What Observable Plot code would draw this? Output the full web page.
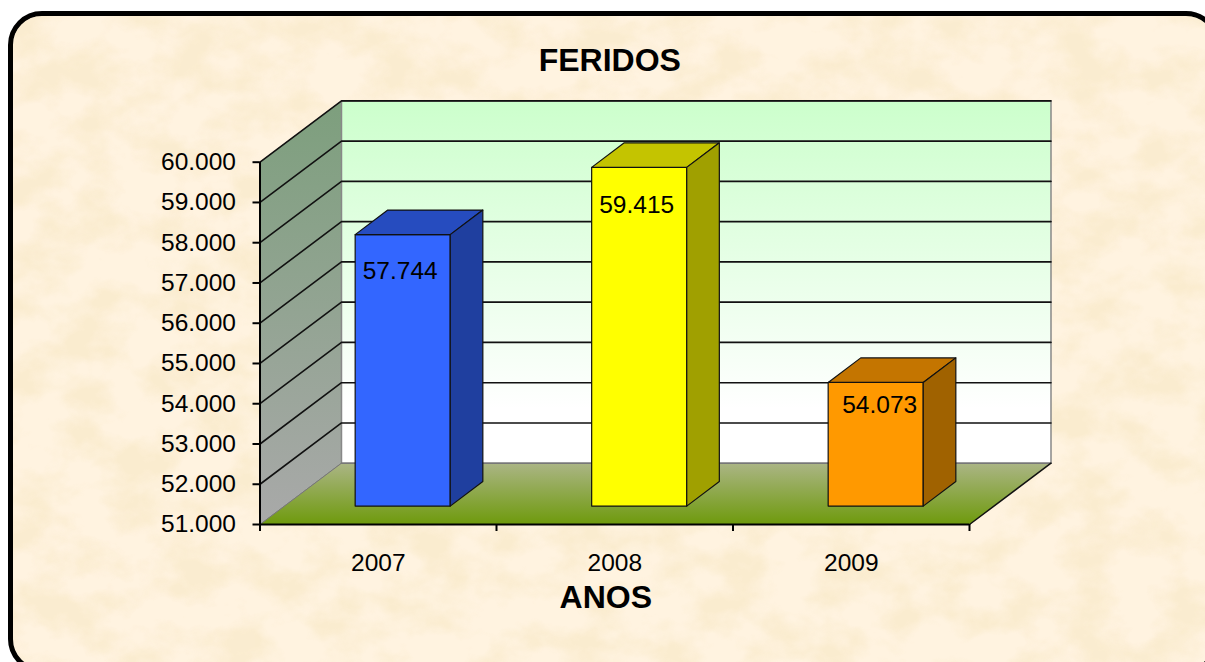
<!DOCTYPE html>
<html lang="pt">
<head>
<meta charset="utf-8">
<script src="https://cdn.jsdelivr.net/npm/d3@7"></script>
<script src="https://cdn.jsdelivr.net/npm/@observablehq/plot@0.6"></script>
<style>
  html, body { margin: 0; padding: 0; width: 1205px; height: 662px; overflow: hidden; background: #fff; }
  #page { position: relative; width: 1205px; height: 662px; overflow: hidden; }
  #panel { position: absolute; left: 8px; top: 11px; width: 1212px; height: 662px; box-sizing: border-box;
           border: 5px solid #000; border-radius: 34px; background: #fff3e0; overflow: hidden; }
  #panel svg { position: absolute; left: 0; top: 0; }
  #chart { position: absolute; left: 0; top: 0; }
</style>
</head>
<body>
<div id="page">
  <div id="panel">
    <svg width="1212" height="662">
      <filter id="parchment" x="0" y="0" width="100%" height="100%" color-interpolation-filters="sRGB">
        <feTurbulence type="fractalNoise" baseFrequency="0.02 0.026" numOctaves="4" seed="11"/>
        <feColorMatrix type="matrix" values="0 0 0 0 0.965  0 0 0 0 0.90  0 0 0 0 0.75  3 0 0 0 -1.15"/>
      </filter>
      <rect width="1212" height="662" filter="url(#parchment)" opacity="0.5"/>
    </svg>
  </div>
  <div id="chart"></div>
</div>
<script>
const title = "FERIDOS";
const xTitle = "ANOS";
const years = ["2007", "2008", "2009"];
const feridos = [57744, 59415, 54073];
const yTicks = [51000, 52000, 53000, 54000, 55000, 56000, 57000, 58000, 59000, 60000];
const frontColors = ["#3366ff", "#ffff00", "#ff9900"];
const topColors = ["#264cbf", "#c4c400", "#c47500"];
const sideColors = ["#1f3f9f", "#a0a000", "#a06200"];
const labelOffsets = [[-2.5, 37], [-2.5, 38], [4, 23]];

const yBase = 51000, yMax = 60000;
const depthX = 0.3446, depthY = 1523;       // 3D depth of the plot box, in data units
const barWidth = 0.402, barNear = 0.30, barFar = 0.70;

const project = (c, v, d = 0) => ({x: c + d * depthX, y: v + d * depthY});
const ptBR = d3.formatLocale({decimal: ",", thousands: ".", grouping: [3], currency: ["", ""]}).format(",");

const face = (points, fill, stroke = "#111", strokeWidth = 1.2) =>
  Plot.line([...points, points[0]], {x: "x", y: "y", fill, stroke, strokeWidth, strokeLinejoin: "round"});

const defs = () => {
  const el = document.createElementNS("http://www.w3.org/2000/svg", "defs");
  el.innerHTML = `
    <linearGradient id="wall" x1="0" y1="0" x2="0" y2="1">
      <stop offset="0" stop-color="#ccffcc"/><stop offset="0.85" stop-color="#ffffff"/><stop offset="1" stop-color="#ffffff"/>
    </linearGradient>
    <linearGradient id="side" x1="0" y1="0" x2="0" y2="1">
      <stop offset="0" stop-color="#7d9f7d"/><stop offset="1" stop-color="#a9a9a9"/>
    </linearGradient>
    <linearGradient id="floor" x1="0" y1="0" x2="0" y2="1">
      <stop offset="0" stop-color="#abb585"/><stop offset="1" stop-color="#6e9a0c"/>
    </linearGradient>`;
  return el;
};

const barFaces = feridos.flatMap((v, i) => {
  const l = i + 0.5 - barWidth / 2, r = i + 0.5 + barWidth / 2;
  return [
    face([project(l, yBase, barNear), project(r, yBase, barNear), project(r, v, barNear), project(l, v, barNear)], frontColors[i]),
    face([project(l, v, barNear), project(r, v, barNear), project(r, v, barFar), project(l, v, barFar)], topColors[i]),
    face([project(r, yBase, barNear), project(r, yBase, barFar), project(r, v, barFar), project(r, v, barNear)], sideColors[i])
  ];
});

const plot = Plot.plot({
  width: 1205, height: 662,
  marginLeft: 259.5, marginRight: 236, marginTop: 161.7, marginBottom: 138,
  style: {fontFamily: "'Liberation Sans', Arial, sans-serif", background: "transparent", color: "#000", overflow: "hidden"},
  x: {domain: [0, 3], axis: null},
  y: {domain: [yBase, yMax], axis: null},
  marks: [
    defs,
    // side wall, back wall, floor
    face([project(0, yBase), project(0, yMax), project(0, yMax, 1), project(0, yBase, 1)], "url(#side)", "#777", 1),
    face([project(0, yBase, 1), project(0, yMax, 1), project(3, yMax, 1), project(3, yBase, 1)], "url(#wall)", "#888", 1.5),
    // grid lines
    ...yTicks.slice(1).map(t =>
      Plot.line([project(0, t), project(0, t, 1), project(3, t, 1)], {x: "x", y: "y", stroke: "#111", strokeWidth: 1.6})),
    face([project(0, yBase), project(3, yBase), project(3, yBase, 1), project(0, yBase, 1)], "url(#floor)", "none"),
    Plot.line([project(0, yBase, 1), project(3, yBase, 1)], {x: "x", y: "y", stroke: "#777", strokeWidth: 1.5}),
    Plot.line([project(3, yBase), project(3, yBase, 1)], {x: "x", y: "y", stroke: "#111", strokeWidth: 1.5}),
    Plot.line([project(0, yBase), project(0, yBase, 1)], {x: "x", y: "y", stroke: "#777", strokeWidth: 1}),
    ...barFaces,
    // value labels
    ...feridos.map((v, i) => {
      const p = project(i + 0.5, v, barNear);
      return Plot.text([v], {x: () => p.x, y: () => p.y, text: ptBR, fontSize: 24.5, fill: "#000",
        dx: labelOffsets[i][0], dy: labelOffsets[i][1]});
    }),
    // axes
    Plot.axisY({ticks: yTicks, tickFormat: ptBR, tickSize: 7, tickPadding: 17, fontSize: 24.5, label: null, stroke: "#000", strokeWidth: 2, fill: "#000"}),
    Plot.axisX({ticks: [0, 1, 2, 3], tickFormat: () => "", tickSize: 7, label: null, stroke: "#000", strokeWidth: 2}),
    Plot.ruleX([0], {y1: yBase, y2: yMax, stroke: "#000", strokeWidth: 2}),
    Plot.ruleY([yBase], {x1: 0, x2: 3, stroke: "#000", strokeWidth: 2}),
    Plot.text(years, {x: (d, i) => i + 0.5, y: () => yBase, text: d => d, fontSize: 24.5, fill: "#000", dy: 39}),
    Plot.text([xTitle], {frameAnchor: "bottom", text: d => d, fontSize: 32, fontWeight: "bold", fill: "#000", dx: -9, dy: 83}),
    Plot.text([title], {frameAnchor: "top", text: d => d, fontSize: 32, fontWeight: "bold", fill: "#000", dx: -5, dy: -114})
  ]
});
document.getElementById("chart").append(plot);
</script>
</body>
</html>
